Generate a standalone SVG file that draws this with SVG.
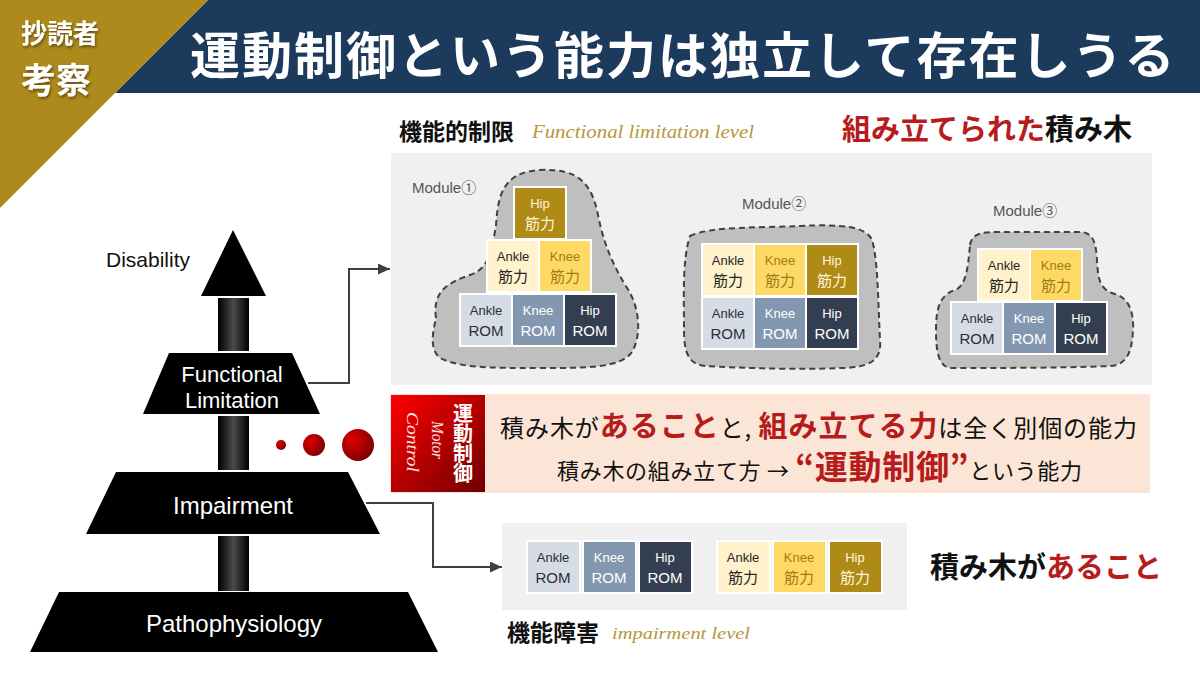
<svg xmlns="http://www.w3.org/2000/svg" width="1200" height="675" viewBox="0 0 1200 675">
<style>
.sans{font-family:"Liberation Sans","Noto Sans",Arial,sans-serif}
.jp{font-family:"Noto Sans CJK JP","Noto Sans",sans-serif}
.hand{font-family:"Liberation Serif",serif;font-style:italic}
.b{stroke:#fff;stroke-width:2}
.blk text{text-anchor:middle}
.w{font-family:"Liberation Sans",sans-serif;font-size:13px}
.r{font-family:"Liberation Sans",sans-serif;font-size:15px}
.j{font-family:"Noto Sans CJK JP",sans-serif;font-size:15px}
.aR rect{fill:#D6DCE5} .aR text{fill:#2b2f36}
.kR rect{fill:#8497B0} .kR text{fill:#fff}
.hR rect{fill:#333F50} .hR text{fill:#fff}
.aS rect{fill:#FFF2CC} .aS text{fill:#262626}
.kS rect{fill:#FFD966} .kS text{fill:#A07C16}
.hS rect{fill:#B08A16} .hS text{fill:#FFF6DA}
.blob{fill:#BFBFBF;stroke:#404040;stroke-width:2;stroke-dasharray:6 4}
.pyr{fill:#000}
.shaft{fill:url(#shaftG)}
.conn{fill:none;stroke:#404040;stroke-width:2}
.mod{font-family:"Liberation Sans","Noto Sans CJK JP",sans-serif;font-size:15px;fill:#555}
.lvl{font-family:"Liberation Serif",serif;font-style:italic;fill:#B8963A}
.red{fill:#B71C1C;font-weight:bold}
</style>
<defs>
<linearGradient id="shaftG" x1="0" y1="0" x2="1" y2="0">
<stop offset="0" stop-color="#000"/><stop offset="0.5" stop-color="#4a4a4a"/><stop offset="1" stop-color="#000"/>
</linearGradient>
<linearGradient id="redG" x1="0" y1="0" x2="1" y2="1">
<stop offset="0" stop-color="#FF0000"/><stop offset="1" stop-color="#6E0000"/>
</linearGradient>
<radialGradient id="ballG" cx="0.35" cy="0.35" r="0.7">
<stop offset="0" stop-color="#E00000"/><stop offset="1" stop-color="#7A0000"/>
</radialGradient>
<marker id="arr" markerUnits="userSpaceOnUse" markerWidth="12" markerHeight="11" viewBox="0 0 12 11" refX="12" refY="5.5" orient="auto">
<path d="M0,0 L12,5.5 L0,11 Z" fill="#404040"/>
</marker>
<filter id="sh" x="-10%" y="-20%" width="130%" height="160%">
<feDropShadow dx="1" dy="2" stdDeviation="1.5" flood-color="#000" flood-opacity="0.45"/>
</filter>
</defs>

<rect width="1200" height="675" fill="#fff"/>

<g id="header">
<polygon points="0,0 1200,0 1200,93 115,93 208,0" fill="#1B3A5C"/>
<polygon points="0,0 208,0 0,208" fill="#AE8A1C"/>
<text class="jp" x="21" y="43" font-size="26" font-weight="bold" fill="#fff" filter="url(#sh)">抄読者</text>
<text class="jp" x="21" y="93" font-size="35" font-weight="bold" fill="#fff" filter="url(#sh)">考察</text>
<text class="jp" x="190" y="74" font-size="50" font-weight="bold" fill="#fff" letter-spacing="2">運動制御という能力は独立して存在しうる</text>
</g>

<g id="pyramid">
<g id="disability">
<polygon class="pyr" points="233,230 266,296 201,296"/>
<text class="sans" x="148" y="267" font-size="21" text-anchor="middle" fill="#111">Disability</text>
</g>
<rect class="shaft" x="218" y="298" width="31" height="53"/>
<g id="functional">
<polygon class="pyr" points="169,353 292,353 320,414 143,414"/>
<text class="sans" x="232" y="382" font-size="22" text-anchor="middle" fill="#fff">Functional</text>
<text class="sans" x="232" y="408" font-size="22" text-anchor="middle" fill="#fff">Limitation</text>
</g>
<rect class="shaft" x="218" y="416" width="31" height="54"/>
<g id="impairment">
<polygon class="pyr" points="116,472 348,472 380,534 86,534"/>
<text class="sans" x="233" y="514" font-size="24" text-anchor="middle" fill="#fff">Impairment</text>
</g>
<rect class="shaft" x="218" y="536" width="31" height="55"/>
<g id="pathophysiology">
<polygon class="pyr" points="59,592 408,592 438,652 30,652"/>
<text class="sans" x="234" y="632" font-size="24" text-anchor="middle" fill="#fff">Pathophysiology</text>
</g>
</g>

<g id="dots">
<circle cx="281" cy="445" r="5" fill="url(#ballG)"/>
<circle cx="314" cy="445" r="11" fill="url(#ballG)"/>
<circle cx="358" cy="445" r="16" fill="url(#ballG)"/>
</g>

<g id="connectors">
<polyline class="conn" points="308,383 349,383 349,269 390,269" marker-end="url(#arr)"/>
<polyline class="conn" points="366,503 433,503 433,567 502,567" marker-end="url(#arr)"/>
</g>

<g id="functional-level">
<text class="jp" x="399" y="140" font-size="23" font-weight="bold" fill="#111">機能的制限</text>
<text class="lvl" x="532" y="138" font-size="18" textLength="222" lengthAdjust="spacingAndGlyphs">Functional limitation level</text>
<text class="jp" x="842" y="140" font-size="29" font-weight="bold" fill="#111"><tspan fill="#B71C1C">組み立てられた</tspan>積み木</text>
<rect x="391" y="153" width="761" height="232" fill="#F0F0F0"/>
</g>

<g id="module1">
<path class="blob" d="M436,318 C432,290 450,282 470,275 C490,268 492,250 496,225 C498,200 500,172 540,170 C580,168 592,185 598,215 C604,245 612,262 625,285 C640,305 642,335 632,352 C620,368 590,368 540,368 C490,368 460,368 440,358 C430,350 432,335 436,318 Z"/>
<text class="mod" x="412" y="193">Module①</text>
<g class="blk hS" transform="translate(514,187)"><rect class="b" width="52" height="52"/><text class="w" x="26" y="21">Hip</text><text class="j" x="26" y="42">筋力</text></g>
<g class="blk aS" transform="translate(487,240)"><rect class="b" width="52" height="52"/><text class="w" x="26" y="21">Ankle</text><text class="j" x="26" y="42">筋力</text></g>
<g class="blk kS" transform="translate(539,240)"><rect class="b" width="52" height="52"/><text class="w" x="26" y="21">Knee</text><text class="j" x="26" y="42">筋力</text></g>
<g class="blk aR" transform="translate(460,294)"><rect class="b" width="52" height="52"/><text class="w" x="26" y="21">Ankle</text><text class="r" x="26" y="42">ROM</text></g>
<g class="blk kR" transform="translate(512,294)"><rect class="b" width="52" height="52"/><text class="w" x="26" y="21">Knee</text><text class="r" x="26" y="42">ROM</text></g>
<g class="blk hR" transform="translate(564,294)"><rect class="b" width="52" height="52"/><text class="w" x="26" y="21">Hip</text><text class="r" x="26" y="42">ROM</text></g>
</g>

<g id="module2">
<path class="blob" d="M690,236 C710,226 760,228 800,226 C840,224 866,226 872,240 C878,260 878,300 880,340 C882,360 870,368 840,368 C800,370 740,368 705,366 C688,364 684,352 684,330 C684,300 682,260 690,236 Z"/>
<text class="mod" x="742" y="209">Module②</text>
<g class="blk aS" transform="translate(702,244)"><rect class="b" width="52" height="52"/><text class="w" x="26" y="21">Ankle</text><text class="j" x="26" y="42">筋力</text></g>
<g class="blk kS" transform="translate(754,244)"><rect class="b" width="52" height="52"/><text class="w" x="26" y="21">Knee</text><text class="j" x="26" y="42">筋力</text></g>
<g class="blk hS" transform="translate(806,244)"><rect class="b" width="52" height="52"/><text class="w" x="26" y="21">Hip</text><text class="j" x="26" y="42">筋力</text></g>
<g class="blk aR" transform="translate(702,297)"><rect class="b" width="52" height="52"/><text class="w" x="26" y="21">Ankle</text><text class="r" x="26" y="42">ROM</text></g>
<g class="blk kR" transform="translate(754,297)"><rect class="b" width="52" height="52"/><text class="w" x="26" y="21">Knee</text><text class="r" x="26" y="42">ROM</text></g>
<g class="blk hR" transform="translate(806,297)"><rect class="b" width="52" height="52"/><text class="w" x="26" y="21">Hip</text><text class="r" x="26" y="42">ROM</text></g>
</g>

<g id="module3">
<path class="blob" d="M970,245 C972,232 985,232 1000,232 L1080,232 C1094,232 1096,245 1097,260 C1098,280 1100,290 1115,294 C1130,298 1134,315 1133,330 C1132,350 1128,365 1110,366 C1060,368 1000,368 950,368 C938,366 936,350 936,330 C936,308 940,295 955,290 C966,286 968,268 970,245 Z"/>
<text class="mod" x="993" y="216">Module③</text>
<g class="blk aS" transform="translate(978,249)"><rect class="b" width="52" height="52"/><text class="w" x="26" y="21">Ankle</text><text class="j" x="26" y="42">筋力</text></g>
<g class="blk kS" transform="translate(1030,249)"><rect class="b" width="52" height="52"/><text class="w" x="26" y="21">Knee</text><text class="j" x="26" y="42">筋力</text></g>
<g class="blk aR" transform="translate(951,302)"><rect class="b" width="52" height="52"/><text class="w" x="26" y="21">Ankle</text><text class="r" x="26" y="42">ROM</text></g>
<g class="blk kR" transform="translate(1003,302)"><rect class="b" width="52" height="52"/><text class="w" x="26" y="21">Knee</text><text class="r" x="26" y="42">ROM</text></g>
<g class="blk hR" transform="translate(1055,302)"><rect class="b" width="52" height="52"/><text class="w" x="26" y="21">Hip</text><text class="r" x="26" y="42">ROM</text></g>
</g>

<g id="motor-control">
<rect x="390" y="394" width="760" height="99" fill="#FBE5D6"/>
<rect x="391" y="395" width="94" height="97" fill="url(#redG)"/>
<text class="jp" x="463" y="403" font-size="20" font-weight="bold" fill="#fff" writing-mode="tb" glyph-orientation-vertical="0">運動制御</text>
<text class="hand" font-size="17" fill="#FFE0E0" transform="translate(432,421) rotate(90)" textLength="38" lengthAdjust="spacingAndGlyphs">Motor</text>
<text class="hand" font-size="17" fill="#FFE0E0" transform="translate(407,412) rotate(90)" textLength="60" lengthAdjust="spacingAndGlyphs">Control</text>
<text class="jp" x="500" y="437" font-size="24" fill="#111" textLength="637" lengthAdjust="spacing">積み木が<tspan class="red" font-size="29">あること</tspan>と, <tspan class="red" font-size="29">組み立てる力</tspan>は全く別個の能力</text>
<text class="jp" x="557" y="479" font-size="22" fill="#111" textLength="525" lengthAdjust="spacing">積み木の組み立て方 → <tspan class="red" font-size="33">“運動制御”</tspan>という能力</text>
</g>

<g id="impairment-level">
<rect x="502" y="523" width="405" height="87" fill="#F0F0F0"/>
<g class="blk aR" transform="translate(527,541)"><rect class="b" width="53" height="52"/><text class="w" x="26" y="21">Ankle</text><text class="r" x="26" y="42">ROM</text></g>
<g class="blk kR" transform="translate(583,541)"><rect class="b" width="53" height="52"/><text class="w" x="26" y="21">Knee</text><text class="r" x="26" y="42">ROM</text></g>
<g class="blk hR" transform="translate(639,541)"><rect class="b" width="53" height="52"/><text class="w" x="26" y="21">Hip</text><text class="r" x="26" y="42">ROM</text></g>
<g class="blk aS" transform="translate(717,541)"><rect class="b" width="53" height="52"/><text class="w" x="26" y="21">Ankle</text><text class="j" x="26" y="42">筋力</text></g>
<g class="blk kS" transform="translate(773,541)"><rect class="b" width="53" height="52"/><text class="w" x="26" y="21">Knee</text><text class="j" x="26" y="42">筋力</text></g>
<g class="blk hS" transform="translate(829,541)"><rect class="b" width="53" height="52"/><text class="w" x="26" y="21">Hip</text><text class="j" x="26" y="42">筋力</text></g>
<text class="jp" x="507" y="641" font-size="23" font-weight="bold" fill="#111">機能障害</text>
<text class="lvl" x="612" y="639" font-size="17" textLength="138" lengthAdjust="spacingAndGlyphs">impairment level</text>
<text class="jp" x="930" y="578" font-size="29" font-weight="bold" fill="#111">積み木が<tspan fill="#B71C1C">あること</tspan></text>
</g>
</svg>
